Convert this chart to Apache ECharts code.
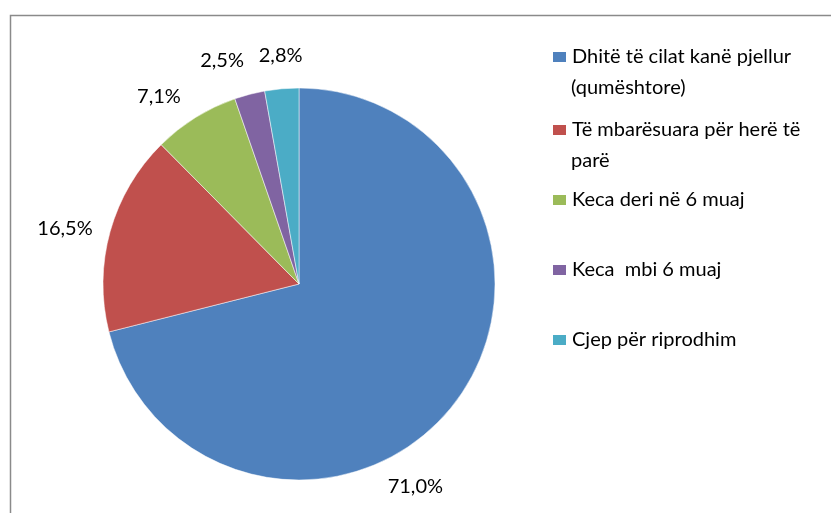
<!DOCTYPE html>
<html>
<head>
<meta charset="utf-8">
<script src="https://cdn.jsdelivr.net/npm/echarts@6/dist/echarts.min.js"></script>
<style>
  html, body { margin: 0; padding: 0; background: #fff; }
  #chart { width: 831px; height: 513px; }
</style>
</head>
<body>
<div id="chart"></div>
<script>
// categories and shares (%)
const categories = [
  'Dhitë të cilat kanë pjellur (qumështore)',
  'Të mbarësuara për herë të parë',
  'Keca deri në 6 muaj',
  'Keca  mbi 6 muaj',
  'Cjep për riprodhim'
];
// legend text as it wraps in the picture
const legendLines = [
  ['Dhitë të cilat kanë pjellur', '(qumështore)'],
  ['Të mbarësuara për herë të', 'parë'],
  ['Keca deri në 6 muaj'],
  ['Keca  mbi 6 muaj'],
  ['Cjep për riprodhim']
];
const shares = [71.0, 16.5, 7.1, 2.5, 2.8];
const colors = ['#4F81BD', '#C0504D', '#9BBB59', '#8064A2', '#4BACC6'];

const FONT = 'Lato';
const legendTops = [42, 115, 185, 255, 325];
// nudges so labels sit where Excel's best-fit put them
const labelNudge = [[-82, 73], [-4, 1], [12, -22], [41, -36], [27, -19]];

const chart = echarts.init(document.getElementById('chart'));

const legends = categories.map((name, i) => ({
  orient: 'vertical',
  left: 546,
  top: legendTops[i],
  data: [name],
  icon: 'rect',
  itemWidth: 15,
  itemHeight: 12,
  itemGap: 0,
  selectedMode: false,
  formatter: () => legendLines[i][0],
  textStyle: { fontFamily: FONT, fontSize: 20, color: '#000' }
}));

const wrapTexts = [];
legendLines.forEach((lines, i) => {
  if (lines[1]) {
    wrapTexts.push({
      type: 'text',
      left: 571,
      top: legendTops[i] + 36,
      style: { text: lines[1], font: '20px ' + FONT, fill: '#000' }
    });
  }
});

chart.setOption({
  animation: false,
  color: colors,
  legend: legends,
  graphic: [
    {
      type: 'rect',
      left: 8, top: 13,
      shape: { width: 822, height: 600 },
      style: { fill: 'none', stroke: '#8a8a8a', lineWidth: 1.5 }
    }
  ].concat(wrapTexts),
  series: [{
    type: 'pie',
    center: [299, 284],
    radius: 196,
    startAngle: 90,
    clockwise: true,
    data: categories.map((name, i) => ({ name, value: shares[i] })),
    itemStyle: { borderColor: '#fff', borderWidth: 0.5 },
    label: {
      show: true,
      position: 'outside',
      fontFamily: FONT,
      fontSize: 20,
      color: '#000',
      formatter: p => p.value.toFixed(1).replace('.', ',') + '%'
    },
    labelLine: { show: false, length: 14, length2: 0 },
    labelLayout: p => ({ dx: labelNudge[p.dataIndex][0], dy: labelNudge[p.dataIndex][1] }),
    emphasis: { disabled: true }
  }]
});
</script>
</body>
</html>
